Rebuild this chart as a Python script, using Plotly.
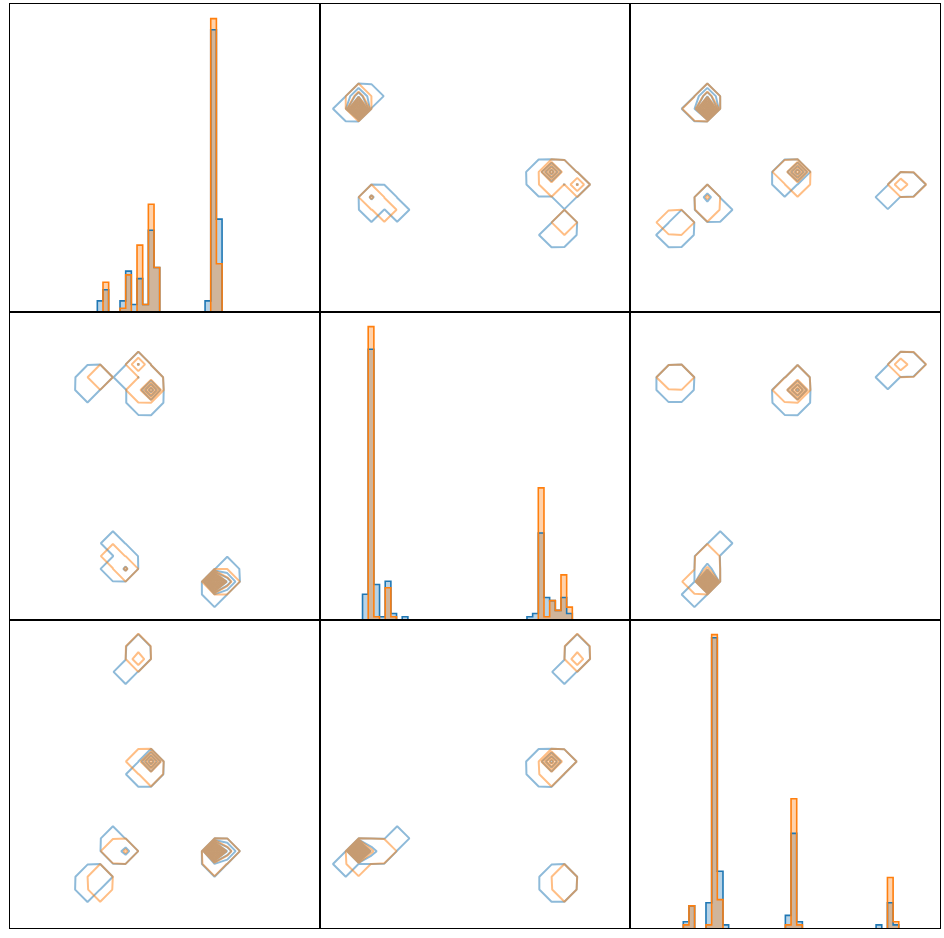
import numpy as np
import plotly.graph_objects as go

# ---- data: sub-groups of records (measure 1, measure 2, measure 3, number of records) ----
blue_v1 = [35, 36, 35, 36, 34, 35, 36, 36, 35, 20, 19, 20, 21, 19, 20, 24, 25, 25, 24, 23, 23, 25, 24, 25, 22, 22, 22, 21, 16, 15, 15, 16, 15]
blue_v2 = [9, 9, 10, 10, 8, 8, 11, 9, 9, 12, 12, 13, 12, 15, 13, 39, 39, 40, 38, 37, 39, 41, 40, 39, 43, 44, 43, 42, 41, 40, 41, 42, 40]
blue_v3 = [15, 15, 16, 16, 14, 14, 16, 16, 16, 15, 16, 16, 15, 17, 15, 29, 29, 29, 29, 28, 28, 30, 28, 30, 46, 46, 47, 44, 11, 10, 10, 11, 11]
blue_n = [61, 20, 8, 3, 3, 5, 1, 1, 2, 9, 2, 1, 1, 1, 1, 18, 7, 3, 2, 1, 1, 1, 2, 1, 6, 2, 1, 1, 4, 1, 1, 2, 1]

orange_v1 = [35, 36, 35, 36, 35, 20, 20, 19, 24, 25, 23, 24, 25, 22, 22, 22, 16, 16, 16]
orange_v2 = [9, 9, 9, 10, 9, 12, 12, 13, 39, 39, 39, 40, 41, 43, 44, 43, 41, 42, 42]
orange_v3 = [15, 15, 16, 16, 14, 15, 16, 16, 29, 29, 29, 28, 30, 46, 46, 47, 11, 11, 10]
orange_n = [73, 12, 5, 1, 1, 8, 2, 1, 28, 11, 2, 1, 1, 12, 4, 2, 5, 2, 1]

groups = [
    dict(vals=[blue_v1, blue_v2, blue_v3], n=blue_n, line="rgb(31,119,180)",
         fill="rgba(31,119,180,0.32)"),
    dict(vals=[orange_v1, orange_v2, orange_v3], n=orange_n, line="rgb(255,127,14)",
         fill="rgba(255,127,14,0.35)"),
]

# axis settings (styling / layout)
hist_range = [[-0.9, 53.77], [0.0, 54.67], [0.1, 54.77]]
pair_range = [[2.8, 51.6], [4.0, 52.2], [4.0, 52.1]]
bin2d_start = [0, 1, 1]
bin2d_size = 2

W, H = 944, 938
ML, MR, MT, MB = 10, 4, 4, 10
col_dom = [[0, 1 / 3], [1 / 3, 2 / 3], [2 / 3, 1]]
row_dom = [[2 / 3, 1], [1 / 3, 2 / 3], [0, 1 / 3]]


def tally(vals, ns):
    d = {}
    for v, c in zip(vals, ns):
        d[v] = d.get(v, 0) + c
    keys = sorted(d)
    return keys, [d[k] for k in keys]


def step_outline(keys, cnts):
    xs, ys = [], []
    i = 0
    while i < len(keys):
        j = i
        while j + 1 < len(keys) and keys[j + 1] == keys[j] + 1:
            j += 1
        run = keys[i:j + 1]
        rc = cnts[i:j + 1]
        xs += [run[0] - 0.5] + [v - 0.5 for v in run] + [run[-1] + 0.5, None]
        ys += [0] + list(rc) + [0, None]
        i = j + 1
    return xs, ys


fig = go.Figure()
layout = dict(
    width=W, height=H,
    margin=dict(l=ML, r=MR, t=MT, b=MB, pad=0),
    paper_bgcolor="white", plot_bgcolor="white",
    showlegend=False, barmode="overlay", bargap=0,
)

for r in range(3):
    for c in range(3):
        idx = r * 3 + c + 1
        xa = "x" if idx == 1 else f"x{idx}"
        ya = "y" if idx == 1 else f"y{idx}"
        xkey = "xaxis" if idx == 1 else f"xaxis{idx}"
        ykey = "yaxis" if idx == 1 else f"yaxis{idx}"
        common = dict(showline=True, mirror=True, linecolor="black", linewidth=1,
                      showticklabels=False, ticks="", showgrid=False, zeroline=False)
        if r == c:
            ymax = 0
            for g in groups:
                keys, cnts = tally(g["vals"][c], g["n"])
                ymax = max(ymax, max(cnts))
                fig.add_trace(go.Bar(x=keys, y=cnts, width=1, marker=dict(color=g["fill"], line=dict(width=0)),
                                     xaxis=xa, yaxis=ya, hoverinfo="skip"))
                sx, sy = step_outline(keys, cnts)
                fig.add_trace(go.Scatter(x=sx, y=sy, mode="lines", line=dict(color=g["line"], width=1.6, shape="hv"),
                                         xaxis=xa, yaxis=ya, hoverinfo="skip", connectgaps=False))
            layout[xkey] = dict(domain=col_dom[c], anchor=ya, range=hist_range[c], **common)
            layout[ykey] = dict(domain=row_dom[r], anchor=xa, range=[0, ymax * 1.05], **common)
        else:
            for g in groups:
                xv = np.repeat(g["vals"][c], g["n"])
                yv = np.repeat(g["vals"][r], g["n"])
                fig.add_trace(go.Histogram2dContour(
                    x=xv, y=yv,
                    xbins=dict(start=bin2d_start[c], end=bin2d_start[c] + 56, size=bin2d_size),
                    ybins=dict(start=bin2d_start[r], end=bin2d_start[r] + 56, size=bin2d_size),
                    autocontour=False,
                    contours=dict(coloring="lines", start=0.05, end=300, size=8.5),
                    line=dict(width=2, smoothing=0),
                    colorscale=[[0, g["line"]], [1, g["line"]]],
                    showscale=False, opacity=0.5,
                    xaxis=xa, yaxis=ya, hoverinfo="skip"))
            layout[xkey] = dict(domain=col_dom[c], anchor=ya, range=pair_range[c], **common)
            layout[ykey] = dict(domain=row_dom[r], anchor=xa, range=pair_range[r], **common)

fig.update_layout(**layout)
fig.write_html("out.html", config={"displayModeBar": False},
               post_script="document.body.style.margin='0';document.body.style.overflow='hidden';")
